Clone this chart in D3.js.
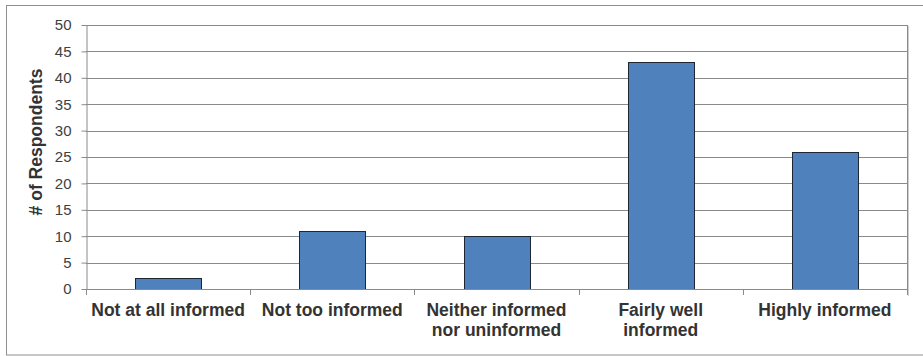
<!DOCTYPE html>
<html>
<head>
<meta charset="utf-8">
<script src="https://cdn.jsdelivr.net/npm/d3@7"></script>
<style>
  html, body { margin: 0; padding: 0; background: #fff; }
  svg { display: block; font-family: "Liberation Sans", Arial, sans-serif; }
</style>
</head>
<body>
<svg id="chart" width="923" height="356"></svg>
<script>
// Survey responses: how informed respondents feel
const categories = [
  "Not at all informed",
  "Not too informed",
  "Neither informed nor uninformed",
  "Fairly well informed",
  "Highly informed"
];
// Category labels as they wrap under the axis
const categoryLines = [
  ["Not at all informed"],
  ["Not too informed"],
  ["Neither informed", "nor uninformed"],
  ["Fairly well", "informed"],
  ["Highly informed"]
];
const respondents = [2, 11, 10, 43, 26];
const yTicks = [0, 5, 10, 15, 20, 25, 30, 35, 40, 45, 50];
const yTitle = "# of Respondents";

const svg = d3.select("#chart");
const W = 923, H = 356;
const plot = { left: 86, right: 907, top: 25, bottom: 289 };

// Outer chart frame
svg.append("rect")
  .attr("x", 6.5).attr("y", 5.5)
  .attr("width", 940).attr("height", 349.5)
  .attr("fill", "none").attr("stroke", "#8f8f8f").attr("stroke-width", 1);

const x = d3.scaleBand()
  .domain(categories)
  .range([plot.left, plot.right])
  .paddingInner(0.6).paddingOuter(0.3);

const y = d3.scaleLinear().domain([0, 50]).range([plot.bottom, plot.top]);

// Horizontal gridlines
svg.append("g")
  .selectAll("line")
  .data(yTicks.filter(d => d > 0))
  .join("line")
  .attr("x1", plot.left).attr("x2", plot.right)
  .attr("y1", d => Math.round(y(d)) + 0.5).attr("y2", d => Math.round(y(d)) + 0.5)
  .attr("stroke", "#8a8a8a").attr("stroke-width", 1);

// Right edge of the plot area with a soft shadow
svg.append("line")
  .attr("x1", plot.right + 0.5).attr("x2", plot.right + 0.5)
  .attr("y1", plot.top).attr("y2", plot.bottom + 6)
  .attr("stroke", "#8a8a8a");
svg.append("line")
  .attr("x1", plot.right + 1.5).attr("x2", plot.right + 1.5)
  .attr("y1", plot.top + 1).attr("y2", plot.bottom + 7)
  .attr("stroke", "#cfcfcf");

// Bars
svg.append("g")
  .selectAll("rect")
  .data(respondents)
  .join("rect")
  .attr("x", (d, i) => Math.round(x(categories[i])) + 0.5)
  .attr("y", d => Math.round(y(d)) + 0.5)
  .attr("width", Math.round(x.bandwidth()))
  .attr("height", d => Math.round(y(0)) - Math.round(y(d)))
  .attr("fill", "#4f81bd")
  .attr("stroke", "#1c2733").attr("stroke-width", 1);

// Y axis
const yAxis = svg.append("g")
  .attr("transform", `translate(${plot.left + 0.5},0)`)
  .call(d3.axisLeft(y).tickValues(yTicks).tickSize(5).tickPadding(10).tickSizeOuter(0));
yAxis.select(".domain").attr("stroke", "#8a8a8a");
yAxis.selectAll(".tick line").attr("stroke", "#8a8a8a");
yAxis.selectAll(".tick text")
  .attr("fill", "#404040")
  .style("font-size", "15px")
  .style("font-family", "'Liberation Sans', Arial, sans-serif");

// X axis line and category separators
svg.append("line")
  .attr("x1", plot.left).attr("x2", plot.right + 1)
  .attr("y1", plot.bottom + 0.5).attr("y2", plot.bottom + 0.5)
  .attr("stroke", "#8a8a8a");
const step = x.step();
svg.append("g")
  .selectAll("line")
  .data(d3.range(categories.length + 1))
  .join("line")
  .attr("x1", i => Math.round(plot.left + i * step) + 0.5)
  .attr("x2", i => Math.round(plot.left + i * step) + 0.5)
  .attr("y1", plot.bottom).attr("y2", plot.bottom + 6)
  .attr("stroke", "#8a8a8a");

// Category labels
const labels = svg.append("g")
  .selectAll("text")
  .data(categoryLines)
  .join("text")
  .attr("x", (d, i) => x(categories[i]) + x.bandwidth() / 2)
  .attr("y", 316)
  .attr("text-anchor", "middle")
  .attr("fill", "#333333")
  .style("font-size", "17.5px")
  .style("font-weight", "bold");
labels.selectAll("tspan")
  .data(d => d)
  .join("tspan")
  .attr("x", function () { return d3.select(this.parentNode).attr("x"); })
  .attr("dy", (d, i) => i === 0 ? 0 : 20)
  .text(d => d);

// Y axis title
svg.append("text")
  .attr("transform", "translate(42,142) rotate(-90)")
  .attr("text-anchor", "middle")
  .attr("fill", "#333333")
  .style("font-size", "17.5px")
  .style("font-weight", "bold")
  .text(yTitle);
</script>
</body>
</html>
